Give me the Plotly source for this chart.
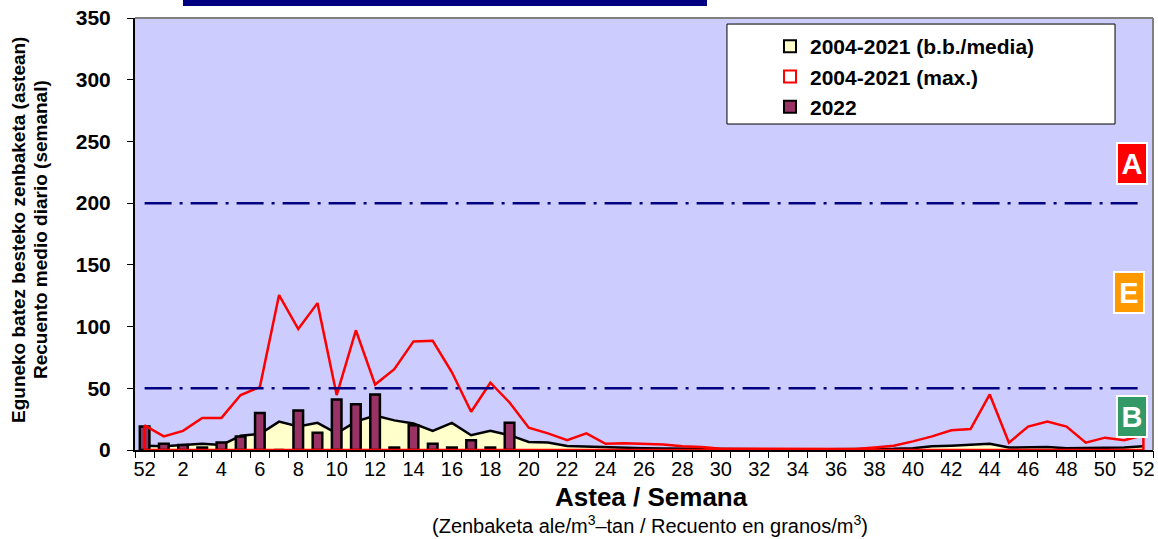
import plotly.graph_objects as go

# weeks: previous year's week 52, then weeks 1..52
week_labels = ["52"] + [str(w) for w in range(1, 53)]

# 2004-2021 mean (b.b./media)
mean_vals = [3.5, 3, 4, 5, 4, 11.5, 13, 23, 19, 22, 13.5, 23, 28, 24, 21.5, 15.5, 22, 12, 15.5, 12,
             6.5, 6, 3.2, 2.7, 2, 1.5, 1.5, 1.2, 1, 0.8, 0.5, 0.5, 0.5, 0.5, 0.5, 0.5, 0.5, 0.5, 0.8, 1,
             1.5, 3, 3.5, 4, 5, 2, 2.5, 2.5, 1.5, 1.5, 1.5, 2, 3]

# 2004-2021 maximum
max_vals = [20, 11, 15.5, 26, 26, 44.5, 51, 125.5, 98, 119, 44.5, 97, 53, 65.5, 88, 88.5, 63, 31, 54.5, 38.5,
            18, 13.5, 8, 13.5, 5, 5.5, 5, 4.5, 3, 2.5, 1, 1, 1, 1, 1, 1, 1, 0.8, 2, 3.5,
            7, 11, 16, 17, 45, 6, 19, 23, 19, 6, 10, 8, 12]

# 2022 weekly values
y2022 = [19, 5, 4, 2, 6, 11, 30, 0, 32, 14, 41, 37, 45, 2, 20, 5, 2, 8, 2, 22]

y_ticks = [0, 50, 100, 150, 200, 250, 300, 350]

x = list(range(len(week_labels)))
x22 = x[:len(y2022)]

FONT = "Arial, Liberation Sans, sans-serif"

fig = go.Figure()

# mean as yellow area with black border (bottom layer)
fig.add_trace(go.Scatter(
    x=x, y=mean_vals, mode="lines", fill="tozeroy",
    fillcolor="#FFFFCC", line=dict(color="black", width=2.5),
    showlegend=False, hoverinfo="skip"))

# 2022 bars on overlay axis so they sit above the area
fig.add_trace(go.Bar(
    x=x22, y=y2022, width=0.5, xaxis="x2",
    marker=dict(color="#993366", line=dict(color="black", width=2.5)),
    showlegend=False))

# max as outlined (unfilled) area, Excel style border, top layer
px_ = [x[0]] + x + [x[-1], x[0]]
py_ = [0] + max_vals + [0, 0]
fig.add_trace(go.Scatter(
    x=px_, y=py_, mode="lines", xaxis="x3", line=dict(color="#FF0000", width=2.5),
    showlegend=False, hoverinfo="skip"))

# legend entries
legend_items = [
    ("2004-2021 (b.b./media)", "#FFFFCC", "black"),
    ("2004-2021 (max.)", "white", "#FF0000"),
    ("2022", "#993366", "black"),
]
for i, (name, fc, lc) in enumerate(legend_items):
    fig.add_trace(go.Bar(
        x=[None], y=[None], name=name, legendgroup=str(i), xaxis="x3",
        marker=dict(color=fc, line=dict(color=lc, width=2))))

# threshold lines
for lvl in [50, 200]:
    fig.add_shape(type="line", x0=x[0], x1=x[-1], y0=lvl, y1=lvl,
                  line=dict(color="#000080", width=2.5, dash="27px,8px,3px,8px"), layer="above")

# legend box
fig.add_shape(type="rect", xref="paper", yref="paper", x0=0.5815, x1=0.9627, y0=0.7546, y1=0.986,
              fillcolor="white", line=dict(color="black", width=1), layer="above")

# partially visible title banner
fig.add_shape(type="rect", xref="paper", yref="paper",
              x0=(183 - 135) / 1018, x1=(707 - 135) / 1018, y0=(450 - 6) / 432, y1=(450 + 2) / 432,
              fillcolor="#000080", line=dict(width=0), layer="above")

# risk level boxes
for txt, col, cx, cy in [("A", "#FF0000", 1132, 163), ("E", "#FF9900", 1129, 292), ("B", "#339966", 1132, 416)]:
    fig.add_annotation(xref="paper", yref="paper", x=(cx - 135) / 1018, y=(450 - cy) / 432,
                       xanchor="center", yanchor="middle",
                       text="<b>%s</b>" % txt, showarrow=False, width=28, height=39,
                       bgcolor=col, bordercolor="white", borderwidth=2, borderpad=0,
                       font=dict(family=FONT, size=29, color="white"))

# axis titles
fig.add_annotation(xref="paper", yref="paper", x=(651 - 135) / 1018, y=(450 - 497) / 432, showarrow=False,
                   xanchor="center", yanchor="middle",
                   text="<b>Astea / Semana</b>", font=dict(family=FONT, size=26, color="black"))
fig.add_annotation(xref="paper", yref="paper", x=(650 - 135) / 1018, y=(450 - 524) / 432, showarrow=False,
                   xanchor="center", yanchor="middle",
                   text="(Zenbaketa ale/m<sup>3</sup>–tan / Recuento en granos/m<sup>3</sup>)",
                   font=dict(family=FONT, size=20, color="black"))
fig.add_annotation(xref="paper", yref="paper", x=(19 - 135) / 1018, y=(450 - 230) / 432,
                   xanchor="center", yanchor="middle", showarrow=False, textangle=-90,
                   text="<b>Eguneko batez besteko zenbaketa (astean)</b>",
                   font=dict(family=FONT, size=19, color="black"))
fig.add_annotation(xref="paper", yref="paper", x=(41 - 135) / 1018, y=(450 - 230) / 432,
                   xanchor="center", yanchor="middle", showarrow=False, textangle=-90,
                   text="<b>Recuento medio diario (semanal)</b>",
                   font=dict(family=FONT, size=19, color="black"))

xr = [-0.5, len(x) - 0.5]
fig.update_layout(
    width=1158, height=539,
    margin=dict(l=135, r=5, t=18, b=89, autoexpand=False),
    paper_bgcolor="white", plot_bgcolor="#CCCCFF",
    font=dict(family=FONT, color="black"),
    barmode="overlay",
    showlegend=True,
    legend=dict(x=(770 - 135) / 1018, y=(450 - 26) / 432, xanchor="left", yanchor="top",
                bgcolor="rgba(0,0,0,0)", borderwidth=0, tracegroupgap=0,
                font=dict(family=FONT, size=21, color="black", weight="bold"),
                itemwidth=30),
    xaxis=dict(range=xr, tickvals=x[::2], ticktext=week_labels[::2], ticks="",
               tickfont=dict(size=20), showline=True, linecolor="black", linewidth=2,
               showgrid=False, zeroline=False, automargin=False),
    xaxis2=dict(range=xr, overlaying="x", side="bottom", anchor="y",
                tickvals=[v - 0.5 for v in x] + [x[-1] + 0.5], showticklabels=False,
                ticks="outside", ticklen=7, tickcolor="black", tickwidth=1,
                showgrid=False, zeroline=False, showline=False, automargin=False),
    xaxis3=dict(range=xr, overlaying="x", side="bottom", anchor="y", visible=False,
                showgrid=False, zeroline=False),
    yaxis=dict(range=[0, 350], tickvals=y_ticks, ticks="outside", ticklen=6, tickcolor="black",
               tickfont=dict(size=21, weight="bold"), ticklabelstandoff=12,
               ticklabeloverflow="allow",
               showline=True, linecolor="black", linewidth=2,
               showgrid=False, zeroline=False, automargin=False),
)
# plot area top/right border (gray)
fig.add_shape(type="line", xref="paper", yref="paper", x0=0, x1=1, y0=1, y1=1,
              line=dict(color="#808080", width=2), layer="above")
fig.add_shape(type="line", xref="paper", yref="paper", x0=1, x1=1, y0=0, y1=1,
              line=dict(color="#808080", width=2), layer="above")

# remove the default page margin so the figure sits at the window's corner
fig.write_html("out.html", config={"displayModeBar": False},
               post_script="document.body.style.margin='0';")
